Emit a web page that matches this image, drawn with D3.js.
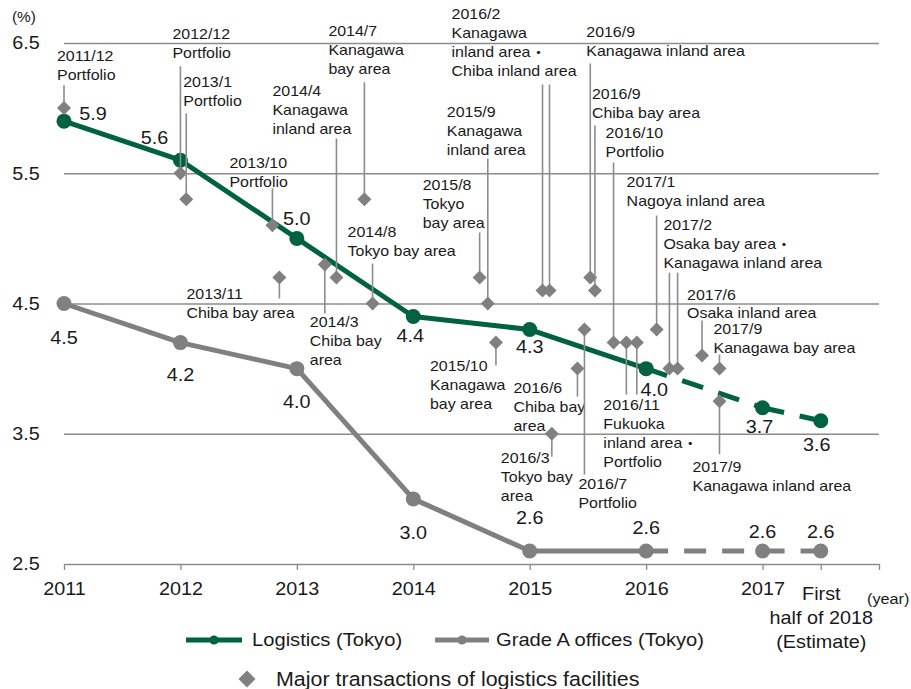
<!DOCTYPE html>
<html><head><meta charset="utf-8">
<script src="https://cdn.jsdelivr.net/npm/d3@7"></script>
<style>
body{margin:0;background:#fff}
text{font-family:"Liberation Sans",Arial,"Noto Sans CJK JP",sans-serif}
</style>
</head><body><svg id="c" width="911" height="689"></svg>
<script>
// ---------- data ----------
const categories = ["2011","2012","2013","2014","2015","2016","2017","First\nhalf of 2018\n(Estimate)"];
const periods = [2011, 2012, 2013, 2014, 2015, 2016, 2017, 2017.5];
const logistics = [5.9, 5.6, 5.0, 4.4, 4.3, 4.0, 3.7, 3.6];
const offices = [4.5, 4.2, 4.0, 3.0, 2.6, 2.6, 2.6, 2.6];
const estimateFrom = 5; // segments after this index are dashed (estimates)
const yTicks = [2.5, 3.5, 4.5, 5.5, 6.5];
const xTicks = [2011, 2012, 2013, 2014, 2015, 2016, 2017, 2017.5, 2018];
const seriesNames = ["Logistics (Tokyo)", "Grade A offices (Tokyo)"];
const transactionLegend = "Major transactions of logistics facilities";

const transactionDates = ["2011/12","2012/12","2013/1","2013/10","2013/11","2014/3","2014/4","2014/7","2014/8","2015/8","2015/9","2015/10","2016/2","2016/3","2016/6","2016/7","2016/9","2016/9","2016/10","2016/11","2017/1","2017/2","2017/6","2017/9","2017/9"];
const transactionAreas = [["Portfolio"],["Portfolio"],["Portfolio"],["Portfolio"],["Chiba bay area"],["Chiba bay","area"],["Kanagawa","inland area"],["Kanagawa","bay area"],["Tokyo bay area"],["Tokyo","bay area"],["Kanagawa","inland area"],["Kanagawa","bay area"],["Kanagawa","inland area・","Chiba inland area"],["Tokyo bay","area"],["Chiba bay","area"],["Portfolio"],["Kanagawa inland area"],["Chiba bay area"],["Portfolio"],["Fukuoka","inland area・","Portfolio"],["Nagoya inland area"],["Osaka bay area・","Kanagawa inland area"],["Osaka inland area"],["Kanagawa bay area"],["Kanagawa inland area"]];
const transactionPeriods = [[2011.00],[2012.00],[2012.05],[2012.79],[2012.85],[2013.24],[2013.34],[2013.58],[2013.65],[2014.57],[2014.64],[2014.71],[2015.11,2015.17],[2015.19],[2015.41],[2015.47],[2015.52],[2015.56],[2015.72],[2015.83,2015.92],[2016.09],[2016.20,2016.27],[2016.48],[2016.63],[2016.63]];
const transactionYields = [6.0,5.5,5.3,5.1,4.7,4.8,4.7,5.3,4.5,4.7,4.5,4.2,4.6,3.5,4.0,4.3,4.7,4.6,4.2,4.2,4.3,4.0,4.1,4.0,3.75];

// ---------- layout (pixel offsets, not data) ----------
const annotationLayout = [
 {lx:-7,ly:-52,lead:-23},{lx:-8,ly:-139,lead:-107},{lx:-3,ly:-117,lead:-86},{lx:-43,ly:-62,lead:-37},
 {lx:-93,ly:17,lead:21},{lx:-15,ly:58,lead:49},{lx:-64,ly:-186,lead:-139},{lx:-36,ly:-168,lead:-117},
 {lx:-25,ly:-71,lead:-40},{lx:-57,ly:-92,lead:-45},{lx:-41,ly:-191,lead:-145},{lx:-66,ly:24,lead:23},
 {lx:-91,ly:-276,lead:-206},{lx:-51,ly:24,lead:23},{lx:-64,ly:19,lead:28},{lx:-6,ly:155,lead:145},
 {lx:-4,ly:-245,lead:-214},{lx:-3,ly:-196,lead:-165},{lx:-8,ly:-209,lead:-180},{lx:-23,ly:63,lead:52},
 {lx:-30,ly:-147,lead:-114},{lx:-6,ly:-144,lead:-96},{lx:-15,ly:-61,lead:-35},{lx:-6,ly:-40,lead:-14},
 {lx:-27,ly:66,lead:53}
];
const logisticsLabelOffsets = [[29,-7],[-26,-23],[0,-20],[-3,19],[0,17],[8,21],[-3,19],[-4,24]];
const officesLabelOffsets = [[0,34],[0,32],[0,33],[0,34],[0,-33],[0,-23],[0,-19],[0,-19]];

const GREEN = "#006241", GRAY = "#808080", GRID = "#8c8c8c", INK = "#1a1a1a";

// ---------- chart ----------
const svg = d3.select("#c");
const x = d3.scaleLinear().domain([2011, 2018]).range([64, 879]);
const y = d3.scaleLinear().domain([2.5, 6.5]).range([564, 43]);

function label(g, px, py, lines, size, anchor, sx, lh) {
  const t = g.append("text")
    .attr("transform", `translate(${px},${py}) scale(${sx},1)`)
    .attr("font-size", size).attr("text-anchor", anchor || "start").attr("fill", INK);
  lines.forEach((s, i) => t.append("tspan").attr("x", 0).attr("y", i * (lh || 19)).attr("dy", "0.35em").text(s));
  return t;
}

// gridlines
const grid = svg.append("g").attr("transform", `translate(${x(2011)},0)`)
  .call(d3.axisLeft(y).tickValues(yTicks.slice(1)).tickSize(-(x(2018) - x(2011))).tickFormat(""));
grid.select(".domain").remove();
grid.selectAll(".tick line").attr("stroke", GRID).attr("stroke-width", 1.3);

// y axis labels
const yAxis = svg.append("g").attr("transform", `translate(${x(2011)},0)`)
  .call(d3.axisLeft(y).tickValues(yTicks).tickSize(0).tickPadding(22).tickFormat(d3.format(".1f")));
yAxis.select(".domain").remove();
yAxis.selectAll("text").attr("font-size", 18).attr("fill", INK)
  .attr("font-family", '"Liberation Sans",Arial,sans-serif')
  .attr("transform", "scale(1.1,1)");

// x axis
const xAxis = svg.append("g").attr("transform", `translate(0,${y(2.5)})`)
  .call(d3.axisBottom(x).tickValues(xTicks).tickSize(6).tickSizeOuter(0)
    .tickFormat(d => { const i = periods.indexOf(d); return i >= 0 ? categories[i] : ""; }));
xAxis.select(".domain").attr("stroke", GRID).attr("stroke-width", 1.3);
xAxis.selectAll(".tick line").attr("stroke", GRID).attr("stroke-width", 1.3);
xAxis.selectAll(".tick text").each(function () {
  const t = d3.select(this);
  const lines = t.text().split("\n");
  t.text(null).attr("y", null).attr("dy", null)
    .attr("font-size", 18).attr("fill", INK)
    .attr("font-family", '"Liberation Sans",Arial,sans-serif')
    .attr("transform", "scale(1.1,1)");
  const starts = lines.length > 1 ? 30 : 25;
  lines.forEach((s, i) => t.append("tspan").attr("x", 0).attr("y", starts + i * 24).attr("dy", "0.35em").text(s));
});

// unit labels
label(svg, 12, 17, ["(%)"], 14, "start", 1.1);
label(svg, 867, 599, ["(year)"], 14, "start", 1.16);

// series
function drawSeries(vals, color) {
  const g = svg.append("g");
  const gen = d3.line().x(i => x(periods[i])).y(i => y(vals[i]));
  g.append("path").attr("d", gen(d3.range(0, estimateFrom + 1)))
    .attr("fill", "none").attr("stroke", color).attr("stroke-width", 5).attr("stroke-linejoin", "round");
  for (let i = estimateFrom; i < vals.length - 1; i++) {
    g.append("path").attr("d", gen([i, i + 1]))
      .attr("fill", "none").attr("stroke", color).attr("stroke-width", 5).attr("stroke-dasharray", "22,16");
  }
  g.selectAll("circle").data(vals).join("circle")
    .attr("cx", (d, i) => x(periods[i])).attr("cy", d => y(d)).attr("r", 7.5).attr("fill", color);
  return g;
}
drawSeries(offices, GRAY);
drawSeries(logistics, GREEN);

// transactions
const ann = svg.append("g");
const diamond = d3.symbol(d3.symbolSquare, 98);
transactionDates.forEach((date, k) => {
  const L = annotationLayout[k];
  const yy = y(transactionYields[k]);
  const xs = transactionPeriods[k].map(p => x(p));
  xs.forEach(px => {
    ann.append("line").attr("x1", px).attr("x2", px).attr("y1", yy).attr("y2", yy + L.lead)
      .attr("stroke", GRID).attr("stroke-width", 1.6);
  });
  xs.forEach(px => {
    ann.append("path").attr("d", diamond()).attr("fill", GRAY)
      .attr("transform", `translate(${px},${yy}) rotate(45)`);
  });
  label(ann, xs[0] + L.lx, yy + L.ly, [date].concat(transactionAreas[k]), 14, "start", 1.14, 19);
});

// data labels
const dl = svg.append("g");
logistics.forEach((v, i) => label(dl, x(periods[i]) + logisticsLabelOffsets[i][0], y(v) + logisticsLabelOffsets[i][1], [d3.format(".1f")(v)], 18, "middle", 1.1));
offices.forEach((v, i) => label(dl, x(periods[i]) + officesLabelOffsets[i][0], y(v) + officesLabelOffsets[i][1], [d3.format(".1f")(v)], 18, "middle", 1.1));

// legend
const lg = svg.append("g");
[[GREEN, 186, 242, 252], [GRAY, 435, 489, 496]].forEach(([c, x0, x1, tx], i) => {
  lg.append("line").attr("x1", x0).attr("x2", x1).attr("y1", 640).attr("y2", 640)
    .attr("stroke", c).attr("stroke-width", 5);
  lg.append("circle").attr("cx", (x0 + x1) / 2).attr("cy", 640).attr("r", 4.5).attr("fill", c);
  label(lg, tx, 640, [seriesNames[i]], 18, "start", 1.12);
});
lg.append("path").attr("d", d3.symbol(d3.symbolSquare, 144)()).attr("fill", GRAY)
  .attr("transform", "translate(247,679) rotate(45)");
label(lg, 276, 679, [transactionLegend], 19.5, "start", 1.1);
</script>
</body></html>
